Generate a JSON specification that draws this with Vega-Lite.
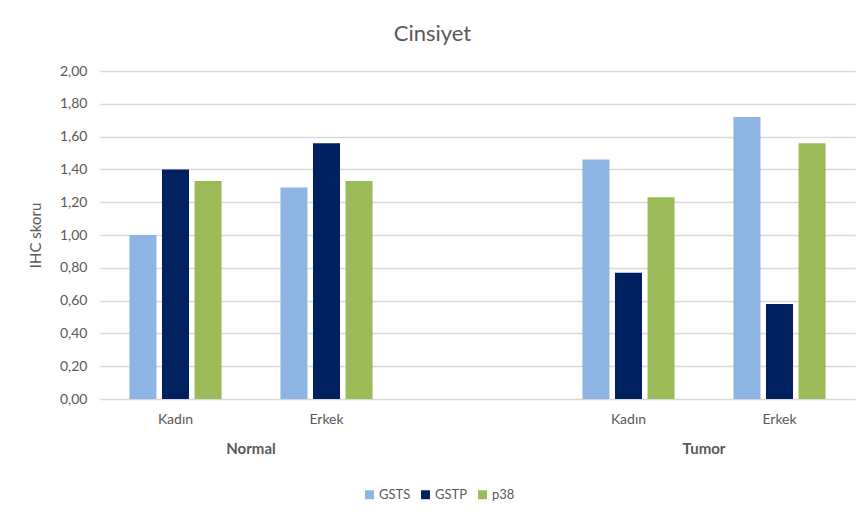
{
  "$schema": "https://vega.github.io/schema/vega-lite/v6.json",
  "width": 755,
  "height": 328,
  "autosize": "none",
  "padding": {"left": 100, "top": 71, "right": 9, "bottom": 127},
  "background": "white",
  "config": {
    "font": "Lato",
    "view": {"stroke": null}
  },
  "title": {
    "text": "Cinsiyet",
    "fontSize": 22,
    "fontWeight": "normal",
    "color": "#595959",
    "anchor": "middle",
    "dx": -45,
    "offset": 18
  },
  "layer": [
    {
      "data": {
        "values": [
          {"slot": "Normal|Kadın", "series": "GSTS", "value": 1.00},
          {"slot": "Normal|Kadın", "series": "GSTP", "value": 1.40},
          {"slot": "Normal|Kadın", "series": "p38", "value": 1.33},
          {"slot": "Normal|Erkek", "series": "GSTS", "value": 1.29},
          {"slot": "Normal|Erkek", "series": "GSTP", "value": 1.56},
          {"slot": "Normal|Erkek", "series": "p38", "value": 1.33},
          {"slot": "Tumor|Kadın", "series": "GSTS", "value": 1.46},
          {"slot": "Tumor|Kadın", "series": "GSTP", "value": 0.77},
          {"slot": "Tumor|Kadın", "series": "p38", "value": 1.23},
          {"slot": "Tumor|Erkek", "series": "GSTS", "value": 1.72},
          {"slot": "Tumor|Erkek", "series": "GSTP", "value": 0.58},
          {"slot": "Tumor|Erkek", "series": "p38", "value": 1.56}
        ]
      },
      "mark": {"type": "bar"},
      "encoding": {
        "x": {
          "field": "slot",
          "type": "nominal",
          "sort": null,
          "scale": {
            "domain": ["Normal|Kadın", "Normal|Erkek", "blank", "Tumor|Kadın", "Tumor|Erkek"],
            "paddingInner": 0.39,
            "paddingOuter": 0.195
          },
          "axis": {
            "title": null,
            "labelAngle": 0,
            "labelExpr": "datum.value == 'blank' ? '' : split(datum.value, '|')[1]",
            "labelFontSize": 14,
            "labelColor": "#595959",
            "labelPadding": 13,
            "ticks": false,
            "domain": false,
            "grid": false
          }
        },
        "xOffset": {
          "field": "series",
          "type": "nominal",
          "sort": ["GSTS", "GSTP", "p38"],
          "scale": {"paddingInner": 0.17, "paddingOuter": 0}
        },
        "y": {
          "field": "value",
          "type": "quantitative",
          "scale": {"domain": [0, 2], "nice": false},
          "axis": {
            "title": "IHC skoru",
            "titleFontSize": 15,
            "titleFontWeight": "normal",
            "titleColor": "#595959",
            "titleX": -57,
            "values": [0, 0.2, 0.4, 0.6, 0.8, 1.0, 1.2, 1.4, 1.6, 1.8, 2.0],
            "labelExpr": "replace(format(datum.value, '.2f'), '.', ',')",
            "labelFontSize": 14,
            "labelColor": "#595959",
            "labelPadding": 13,
            "ticks": false,
            "domain": false,
            "gridColor": "#d9d9d9",
            "gridWidth": 1.3
          }
        },
        "color": {
          "field": "series",
          "type": "nominal",
          "sort": ["GSTS", "GSTP", "p38"],
          "scale": {
            "domain": ["GSTS", "GSTP", "p38"],
            "range": ["#8EB4E3", "#002060", "#9BBB59"]
          },
          "legend": {
            "title": null,
            "orient": "none",
            "direction": "horizontal",
            "legendX": 263,
            "legendY": 417,
            "symbolType": "square",
            "symbolSize": 80,
            "symbolStrokeWidth": 0,
            "labelFontSize": 13,
            "labelColor": "#595959",
            "labelOffset": 3,
            "columnPadding": 8
          }
        }
      }
    },
    {
      "data": {
        "values": [
          {"group": "Normal", "pos": 1},
          {"group": "Tumor", "pos": 4}
        ]
      },
      "mark": {
        "type": "text",
        "fontWeight": "bold",
        "fontSize": 15,
        "color": "#595959",
        "baseline": "middle",
        "align": "center"
      },
      "encoding": {
        "x": {
          "field": "pos",
          "type": "quantitative",
          "scale": {"domain": [0, 5], "nice": false, "zero": false},
          "axis": null
        },
        "y": {"value": 378},
        "text": {"field": "group"}
      }
    }
  ],
  "resolve": {"scale": {"x": "independent"}, "axis": {"x": "independent"}}
}
